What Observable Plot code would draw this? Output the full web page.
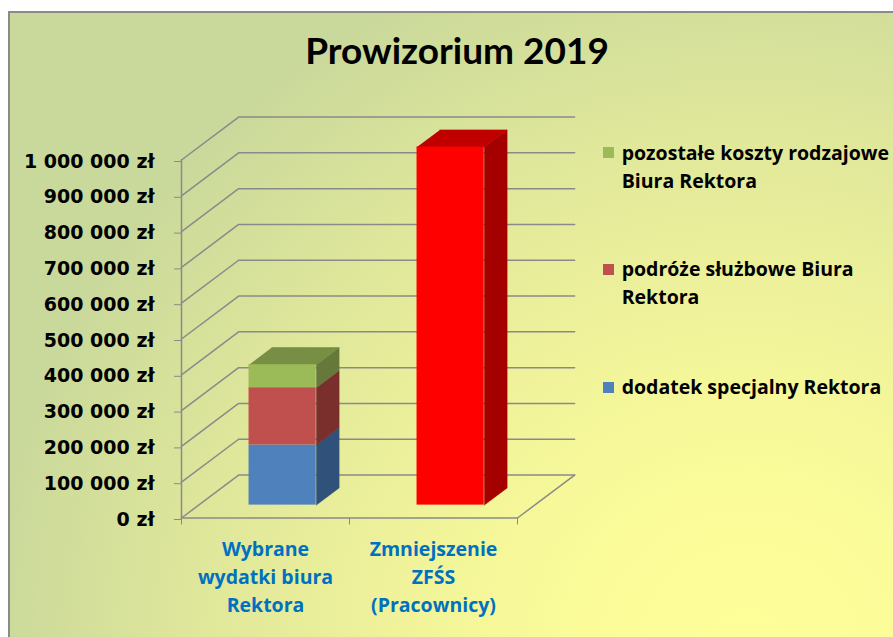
<!DOCTYPE html>
<html><head><meta charset="utf-8">
<script src="https://cdn.jsdelivr.net/npm/d3@7"></script>
<script src="https://cdn.jsdelivr.net/npm/@observablehq/plot@0.6"></script>
<style>
html,body{margin:0;padding:0;width:893px;height:637px;overflow:hidden;background:#fff;}
#bg{position:absolute;left:8px;top:11px;width:900px;height:640px;border-top:2px solid #8a8a8a;border-left:2px solid #8a8a8a;
 background:radial-gradient(ellipse 85% 115% at 82% 100%, #ffff99 0%, #fbfc99 22%, #eff29a 48%, #dfe79a 72%, #c9d89b 100%);}
#chart{position:absolute;left:0;top:0;}
#title{position:absolute;left:0;width:914px;top:31px;text-align:center;font:bold 37px/37px Lato;color:#000;white-space:nowrap;}
.leg{position:absolute;left:621.7px;font:bold 19.5px/28px "Open Sans";color:#000;white-space:nowrap;}
.sw{position:absolute;left:603px;width:11px;height:11px;}
</style></head><body>
<div id="bg"></div><div id="chart"></div><div id="title"></div><div id="legend"></div>
<script>
// ---- data ----
const title = "Prowizorium 2019";
const categories = ["Wybrane\nwydatki biura\nRektora", "Zmniejszenie\nZFŚS\n(Pracownicy)"];
const seriesNames = ["dodatek specjalny Rektora", "podróże służbowe Biura Rektora", "pozostałe koszty rodzajowe Biura Rektora", "Zmniejszenie ZFŚS"];
const dodatek = [168000, 0];
const podroze = [160000, 0];
const pozostale = [64000, 0];
const zfss = [0, 1000000];
const yTicks = [0, 100000, 200000, 300000, 400000, 500000, 600000, 700000, 800000, 900000, 1000000];
const legendLabels = ["pozostałe koszty rodzajowe\nBiura Rektora", "podróże służbowe Biura\nRektora", "dodatek specjalny Rektora"];
const legendSeries = [2, 1, 0];

// ---- styles ----
const frontColors = ["#4F81BD", "#C0504D", "#9BBB59", "#FF0000"];
const sideColors  = ["#30527A", "#7A2F2D", "#66793A", "#A50000"];
const topColors   = ["#3E6699", "#9A3F3D", "#778F45", "#C00000"];
const GRID = "#8a8a8a";
const BAR_W = 0.4, DX = 0.34, DY = 120000, FRONT = 0.3, BD = 0.4;

const seriesValues = [dodatek, podroze, pozostale, zfss];

// stacked segments
const segs = [];
categories.forEach((cat, i) => {
  let acc = 0, last = null;
  seriesValues.forEach((vals, s) => {
    const v = vals[i];
    if (!v) return;
    const seg = {i, s, y0: acc, y1: acc + v};
    acc += v; segs.push(seg); last = seg;
  });
  if (last) last.top = true;
});

const fronts = segs.map(d => ({
  x1: d.i + 0.5 - BAR_W / 2 + FRONT * DX,
  x2: d.i + 0.5 + BAR_W / 2 + FRONT * DX,
  y1: d.y0 + FRONT * DY, y2: d.y1 + FRONT * DY,
  color: frontColors[d.s]
}));
const polys = [];
segs.forEach((d, k) => {
  const xl = d.i + 0.5 - BAR_W / 2 + FRONT * DX, xr = d.i + 0.5 + BAR_W / 2 + FRONT * DX;
  const yo = FRONT * DY, ex = BD * DX, ey = BD * DY;
  const side = [[xr, d.y0 + yo], [xr + ex, d.y0 + yo + ey], [xr + ex, d.y1 + yo + ey], [xr, d.y1 + yo]];
  side.forEach(([x, y]) => polys.push({id: "s" + k, x, y, color: sideColors[d.s]}));
  if (d.top) {
    const top = [[xl, d.y1 + yo], [xr, d.y1 + yo], [xr + ex, d.y1 + yo + ey], [xl + ex, d.y1 + yo + ey]];
    top.forEach(([x, y]) => polys.push({id: "t" + k, x, y, color: topColors[d.s]}));
  }
});

const grid = [];
yTicks.forEach(t => {
  grid.push({id: t, x: 0, y: t}, {id: t, x: DX, y: t + DY}, {id: t, x: categories.length + DX, y: t + DY});
});
const edges = [
  {id: "a", x: 0, y: 0}, {id: "a", x: 0, y: yTicks[yTicks.length - 1]},
  {id: "b", x: 0, y: 0}, {id: "b", x: categories.length, y: 0},
  {id: "c", x: categories.length, y: 0}, {id: "c", x: categories.length + DX, y: DY}
];

const fmt = d => d3.format(",")(d).replace(/,/g, " ") + " zł";

const plot = Plot.plot({
  width: 893, height: 637,
  marginLeft: 181, marginRight: 376, marginTop: 159.5, marginBottom: 119.5,
  x: {type: "linear", domain: [0, categories.length], label: null},
  y: {domain: [0, 1000000], label: null},
  color: {type: "identity"},
  style: {background: "transparent", fontFamily: "DejaVu Sans", fontSize: "19px", fontWeight: "bold", color: "#000", overflow: "visible"},
  marks: [
    Plot.line(grid, {x: "x", y: "y", z: "id", stroke: GRID, strokeWidth: 1.5}),
    Plot.line(edges, {x: "x", y: "y", z: "id", stroke: GRID, strokeWidth: 1.5}),
    Plot.axisY(yTicks, {tickSize: 7, tickPadding: 20, tickFormat: fmt, stroke: GRID, fill: "#000", dy: 1.5, fontSize: 19, fontWeight: "bold", fontFamily: "DejaVu Sans", label: null}),
    Plot.axisX([0, 1, 2], {tickSize: 7, tickFormat: () => "", stroke: GRID, label: null}),
    Plot.line(polys, {x: "x", y: "y", z: "id", fill: "color", stroke: "color", strokeWidth: 0.6}),
    Plot.rect(fronts, {x1: "x1", x2: "x2", y1: "y1", y2: "y2", fill: "color"}),
    Plot.text(categories, {x: (d, i) => i + 0.5, y: 0, text: d => d, lineAnchor: "top", dy: 17.6, lineHeight: 1.45,
      fill: "#0070C0", fontFamily: "Open Sans", fontSize: 19.5, fontWeight: "bold"})
  ]
});
document.getElementById("chart").appendChild(plot);
document.getElementById("title").textContent = title;

const legendTops = [139, 255, 373.2];
const swTops = [147.3, 263.5, 382];
const leg = document.getElementById("legend");
legendLabels.forEach((lab, k) => {
  const sw = document.createElement("div");
  sw.className = "sw"; sw.style.top = swTops[k] + "px"; sw.style.background = frontColors[legendSeries[k]];
  leg.appendChild(sw);
  const t = document.createElement("div");
  t.className = "leg"; t.style.top = legendTops[k] + "px";
  lab.split("\n").forEach((line, j) => { if (j) t.appendChild(document.createElement("br")); t.appendChild(document.createTextNode(line)); });
  leg.appendChild(t);
});
</script>
</body></html>
